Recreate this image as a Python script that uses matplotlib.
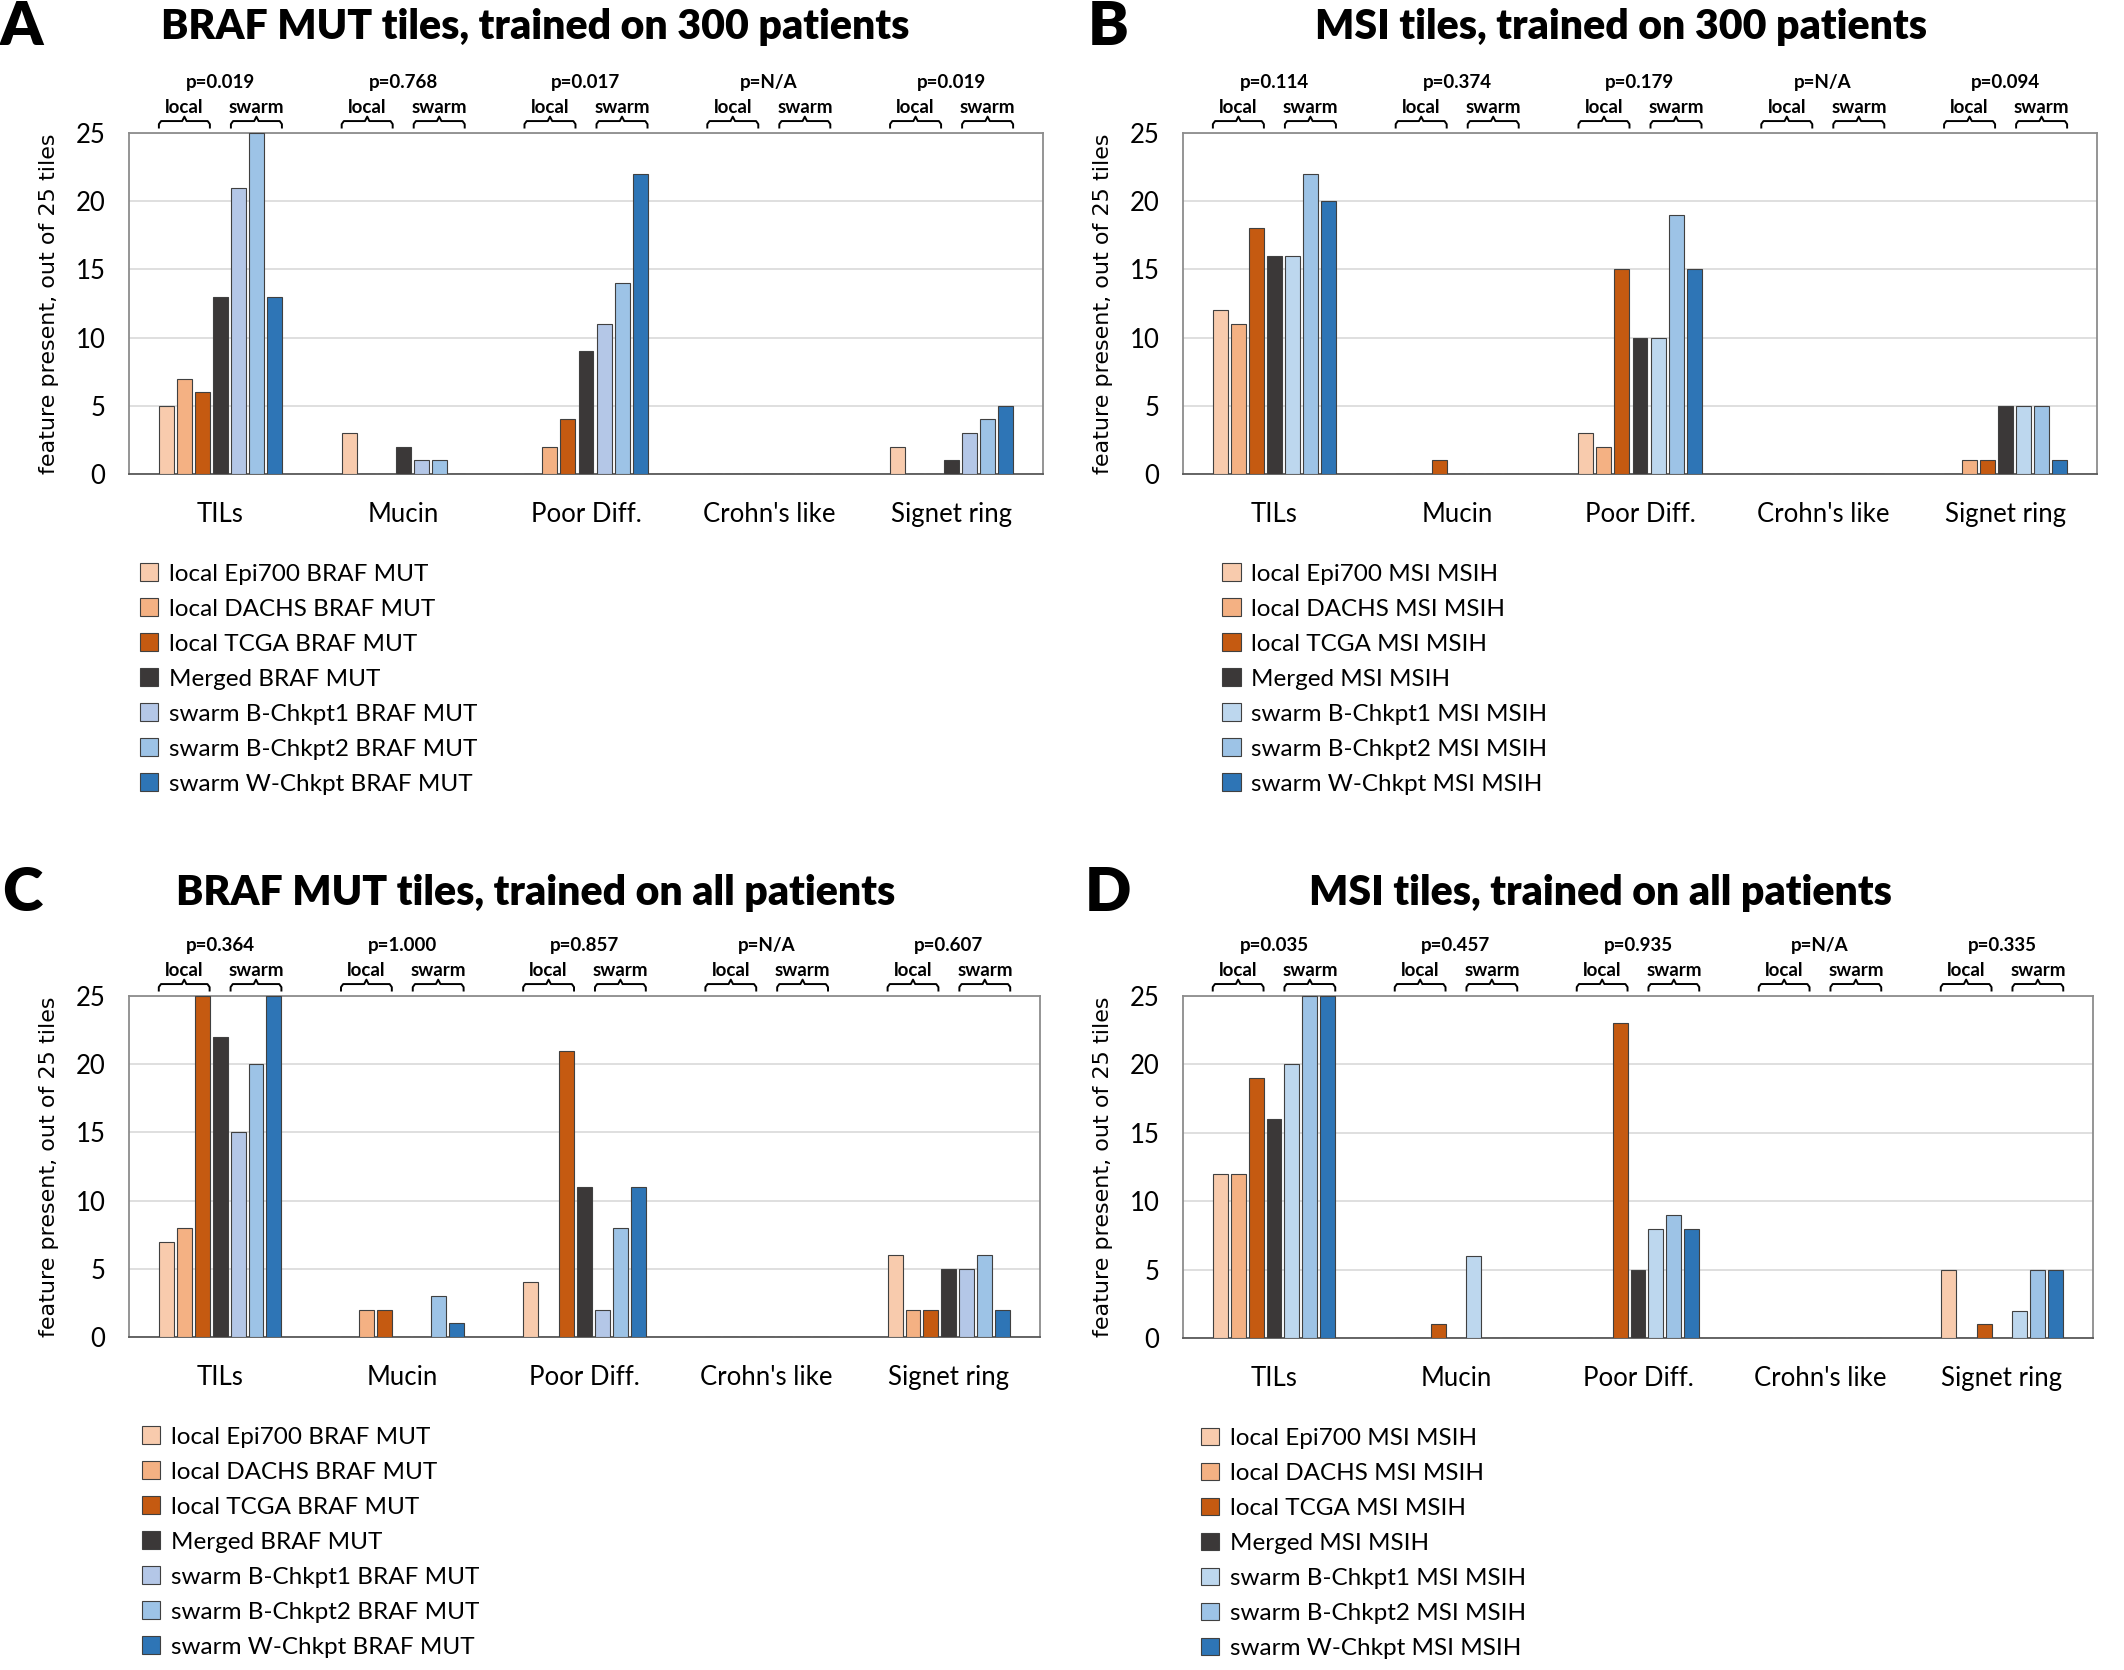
import numpy as np
import matplotlib.pyplot as plt
from matplotlib import transforms

plt.rcParams['font.family'] = ['Lato', 'DejaVu Sans']

categories = ["TILs", "Mucin", "Poor Diff.", "Crohn's like", "Signet ring"]
series = ["local Epi700", "local DACHS", "local TCGA", "Merged",
          "swarm B-Chkpt1", "swarm B-Chkpt2", "swarm W-Chkpt"]

# values per category, 7 series each (same order as `series`)
braf_300 = [[5, 7, 6, 13, 21, 25, 13],
            [3, 0, 0, 2, 1, 1, 0],
            [0, 2, 4, 9, 11, 14, 22],
            [0, 0, 0, 0, 0, 0, 0],
            [2, 0, 0, 1, 3, 4, 5]]
msi_300 = [[12, 11, 18, 16, 16, 22, 20],
           [0, 0, 1, 0, 0, 0, 0],
           [3, 2, 15, 10, 10, 19, 15],
           [0, 0, 0, 0, 0, 0, 0],
           [0, 1, 1, 5, 5, 5, 1]]
braf_all = [[7, 8, 25, 22, 15, 20, 25],
            [0, 2, 2, 0, 0, 3, 1],
            [4, 0, 21, 11, 2, 8, 11],
            [0, 0, 0, 0, 0, 0, 0],
            [6, 2, 2, 5, 5, 6, 2]]
msi_all = [[12, 12, 19, 16, 20, 25, 25],
           [0, 0, 1, 0, 6, 0, 0],
           [0, 0, 23, 5, 8, 9, 8],
           [0, 0, 0, 0, 0, 0, 0],
           [5, 0, 1, 0, 2, 5, 5]]

p_braf_300 = ["p=0.019", "p=0.768", "p=0.017", "p=N/A", "p=0.019"]
p_msi_300 = ["p=0.114", "p=0.374", "p=0.179", "p=N/A", "p=0.094"]
p_braf_all = ["p=0.364", "p=1.000", "p=0.857", "p=N/A", "p=0.607"]
p_msi_all = ["p=0.035", "p=0.457", "p=0.935", "p=N/A", "p=0.335"]

colors_braf = ['#F8CBAD', '#F4B183', '#C55A11', '#3B3838', '#B4C7E7', '#9DC3E6', '#2E75B6']
colors_msi = ['#F8CBAD', '#F4B183', '#C55A11', '#3B3838', '#BDD7EE', '#9DC3E6', '#2E75B6']

W, H = 2124, 1670
fig = plt.figure(figsize=(W / 100, H / 100), dpi=100)


def px_axes(left, top, right, bottom):
    return fig.add_axes([left / W, 1 - bottom / H, (right - left) / W, (bottom - top) / H])


def brace(ax, x0, x1, trans):
    xc = (x0 + x1) / 2
    d = 0.012
    xs = [x0, x0, x0 + d, xc - d, xc, xc + d, x1 - d, x1, x1]
    ys = [1.016, 1.026, 1.035, 1.035, 1.048, 1.035, 1.035, 1.026, 1.016]
    ax.plot(xs, ys, color='black', lw=1.4, transform=trans, clip_on=False,
            solid_joinstyle='round')


def panel(ax, data, pvals, colors, suffix, leg_x):
    data = np.array(data)
    x = np.arange(len(categories))
    slot, bw = 0.0985, 0.082
    handles = []
    for j in range(len(series)):
        b = ax.bar(x + (j - 3) * slot, data[:, j], width=bw, color=colors[j],
                   edgecolor='#404040', linewidth=0.8, zorder=3)
        handles.append(b)
    ax.set_xlim(-0.5, 4.5)
    ax.set_ylim(0, 25)
    ax.set_yticks([0, 5, 10, 15, 20, 25])
    ax.set_xticks(x)
    ax.set_xticklabels(categories, fontsize=18.5)
    ax.tick_params(axis='x', length=0, pad=20)
    ax.tick_params(axis='y', length=0, pad=17, labelsize=18.5)
    ax.grid(axis='y', color='#D9D9D9', lw=1.2, zorder=0)
    for s in ax.spines.values():
        s.set_color('#8C8C8C')
        s.set_linewidth(1.3)
    ax.spines['bottom'].set_color('#595959')
    ax.set_ylabel("feature present, out of 25 tiles", family='DejaVu Sans',
                  fontsize=16, labelpad=12)

    trans = transforms.blended_transform_factory(ax.transData, ax.transAxes)
    for i in range(len(categories)):
        l0 = i - 3 * slot - bw / 2
        l1 = i - slot + bw / 2
        s0 = i + slot - bw / 2
        s1 = i + 3 * slot + bw / 2
        brace(ax, l0, l1, trans)
        brace(ax, s0, s1, trans)
        ax.text((l0 + l1) / 2, 1.075, "local", transform=trans, ha='center',
                va='center', fontsize=13.5, fontweight='bold')
        ax.text((s0 + s1) / 2, 1.075, "swarm", transform=trans, ha='center',
                va='center', fontsize=13.5, fontweight='bold')
        ax.text(i, 1.148, pvals[i], transform=trans, ha='center', va='center',
                fontsize=13.5, fontweight='bold')

    labels = [f"{s} {suffix}" for s in series]
    ax.legend(handles, labels, loc='upper left', bbox_to_anchor=(leg_x, -0.262),
              frameon=False, fontsize=17.5, handlelength=0.75, handleheight=0.75,
              handletextpad=0.45, labelspacing=0.56, borderpad=0, borderaxespad=0)


ax_a = px_axes(129, 133, 1043, 474)
ax_b = px_axes(1183, 133, 2097, 474)
ax_c = px_axes(129, 996, 1040, 1337)
ax_d = px_axes(1183, 996, 2093, 1338)

panel(ax_a, braf_300, p_braf_300, colors_braf, "BRAF MUT", 0.012)
panel(ax_b, msi_300, p_msi_300, colors_msi, "MSI MSIH", 0.043)
panel(ax_c, braf_all, p_braf_all, colors_braf, "BRAF MUT", 0.014)
panel(ax_d, msi_all, p_msi_all, colors_msi, "MSI MSIH", 0.02)

titles = [("A", 22, 27, "BRAF MUT tiles, trained on 300 patients", 535),
          ("B", 1108, 27, "MSI tiles, trained on 300 patients", 1621),
          ("C", 22, 893, "BRAF MUT tiles, trained on all patients", 536),
          ("D", 1108, 893, "MSI tiles, trained on all patients", 1600)]
for letter, lx, y, title, tx in titles:
    fig.text(lx / W, 1 - y / H, letter, fontsize=44, fontweight='heavy',
             ha='center', va='center')
    fig.text(tx / W, 1 - y / H, title, fontsize=29.5, fontweight='heavy',
             ha='center', va='center')

fig.savefig("out.png", dpi=100, facecolor='white')
